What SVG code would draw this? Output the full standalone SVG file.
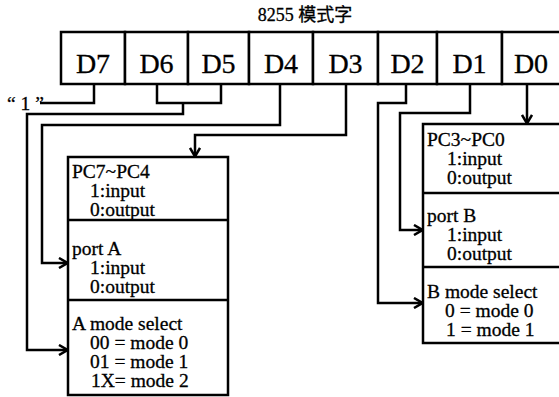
<svg xmlns="http://www.w3.org/2000/svg" width="559" height="397" viewBox="0 0 559 397">
<style>
.b{fill:#fff;stroke:#000;stroke-width:2.5}
.c{fill:none;stroke:#000;stroke-width:2.5;stroke-linejoin:miter}
.t{font-family:"Liberation Serif","Times New Roman",serif;fill:#000;stroke:#000;stroke-width:0.3}
.d{font-size:28px;text-anchor:middle}
.s{font-size:19.5px}
.h{font-family:"Liberation Serif","Noto Sans CJK SC",serif;font-size:18px;text-anchor:middle;fill:#000;stroke:#000;stroke-width:0.3}
</style>
<defs>
<marker id="a" viewBox="0 0 10 12" refX="10" refY="6" markerWidth="10" markerHeight="12" markerUnits="userSpaceOnUse" orient="auto">
<path d="M1,1 L9.5,6 L1,11" fill="none" stroke="#000" stroke-width="2.5"/>
</marker>
</defs>
<rect width="559" height="397" fill="#fff"/>
<text class="h" x="305" y="21">8255 模式字</text>
<g id="word">
<g id="D7"><rect class="b" x="61" y="32" width="64" height="52"/><text class="t d" x="93" y="73">D7</text></g>
<g id="D6"><rect class="b" x="125" y="32" width="63" height="52"/><text class="t d" x="156.5" y="73">D6</text></g>
<g id="D5"><rect class="b" x="188" y="32" width="61" height="52"/><text class="t d" x="218.5" y="73">D5</text></g>
<g id="D4"><rect class="b" x="249" y="32" width="64" height="52"/><text class="t d" x="281" y="73">D4</text></g>
<g id="D3"><rect class="b" x="313" y="32" width="65" height="52"/><text class="t d" x="345.5" y="73">D3</text></g>
<g id="D2"><rect class="b" x="378" y="32" width="59" height="52"/><text class="t d" x="407.5" y="73">D2</text></g>
<g id="D1"><rect class="b" x="437" y="32" width="65" height="52"/><text class="t d" x="469.5" y="73">D1</text></g>
<g id="D0"><rect class="b" x="502" y="32" width="62" height="52"/><text class="t d" x="531" y="73">D0</text></g>
</g>
<text class="t s" x="7" y="110">“ 1 ”</text>
<g id="groupA">
<rect class="b" x="68" y="157" width="160" height="238"/>
<line class="c" x1="68" y1="220" x2="228" y2="220"/>
<line class="c" x1="68" y1="300" x2="228" y2="300"/>
<g id="pcu"><text class="t s" x="72" y="178">PC7~PC4</text><text class="t s" x="90" y="197">1:input</text><text class="t s" x="90" y="216">0:output</text></g>
<g id="portA"><text class="t s" x="72" y="255">port A</text><text class="t s" x="90" y="274">1:input</text><text class="t s" x="90" y="293">0:output</text></g>
<g id="modeA"><text class="t s" x="72" y="330">A mode select</text><text class="t s" x="90" y="349">00 = mode 0</text><text class="t s" x="90" y="368">01 = mode 1</text><text class="t s" x="91" y="387">1X= mode 2</text></g>
</g>
<g id="groupB">
<rect class="b" x="423" y="124" width="140" height="219"/>
<line class="c" x1="423" y1="193" x2="563" y2="193"/>
<line class="c" x1="423" y1="267" x2="563" y2="267"/>
<g id="pcl"><text class="t s" x="427" y="146">PC3~PC0</text><text class="t s" x="447" y="165">1:input</text><text class="t s" x="447" y="184">0:output</text></g>
<g id="portB"><text class="t s" x="427" y="222">port B</text><text class="t s" x="447" y="241">1:input</text><text class="t s" x="447" y="260">0:output</text></g>
<g id="modeB"><text class="t s" x="427" y="298">B mode select</text><text class="t s" x="445" y="317">0 = mode 0</text><text class="t s" x="446" y="336">1 = mode 1</text></g>
</g>
<g id="connectors">
<polyline class="c" points="94,84 94,103 40,103"/>
<polyline class="c" points="157,84 157,103 221,103 221,84"/>
<polyline class="c" points="183,103 183,114 27,114 27,350 68,350" marker-end="url(#a)"/>
<polyline class="c" points="280,84 280,125 42,125 42,263 68,263" marker-end="url(#a)"/>
<polyline class="c" points="346,84 346,135 195,135 195,157" marker-end="url(#a)"/>
<polyline class="c" points="406,84 406,103 378,103 378,303 423,303" marker-end="url(#a)"/>
<polyline class="c" points="470,84 470,113 400,113 400,230 423,230" marker-end="url(#a)"/>
<polyline class="c" points="527,84 527,124" marker-end="url(#a)"/>
</g>
</svg>
